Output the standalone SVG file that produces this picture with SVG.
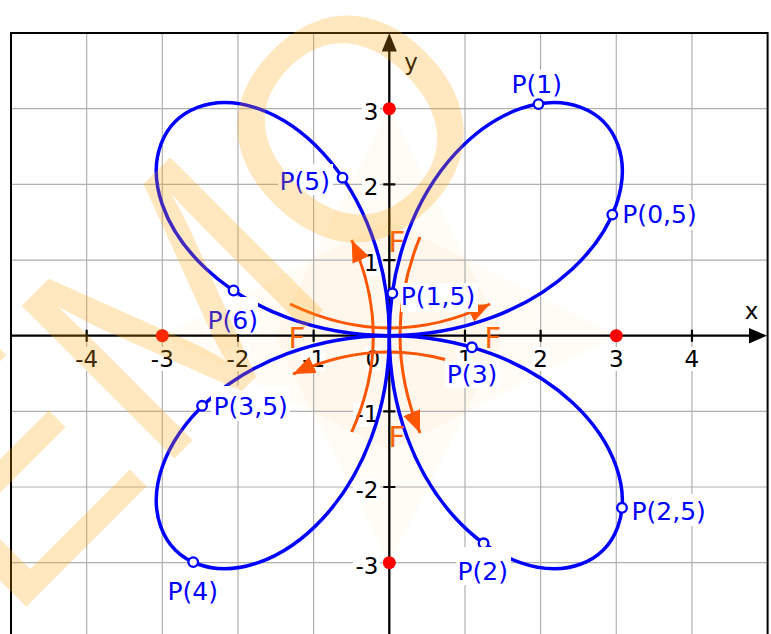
<svg xmlns="http://www.w3.org/2000/svg" xmlns:xlink="http://www.w3.org/1999/xlink" width="771" height="634" viewBox="0 0 771 634">
<style>
.grid{stroke:#b0b0b0;stroke-width:1.2;fill:none}
.ax{stroke:#000;stroke-width:2.3;fill:none}
.tk{stroke:#000;stroke-width:2.2}
.num{font-family:"DejaVu Sans",sans-serif;font-size:23px;fill:#000}
.nb{fill:#fff}
.curve{fill:none;stroke:#0000ff;stroke-width:3.5}
.force{fill:none;stroke:#ff5500;stroke-width:3}
.fl{font-family:"DejaVu Sans",sans-serif;font-size:29px;fill:#ff6400}
.pt{fill:#fff;stroke:#0000ff;stroke-width:2.3}
.pl{font-family:"DejaVu Sans",sans-serif;font-size:25px;fill:#0000ff}
.red{fill:#ff0000}
.cone{fill:#ffa500;fill-opacity:0.04}
.wm{font-family:"Liberation Sans",Arial,sans-serif;font-size:314px;fill:#ffa500;fill-opacity:0.25}
</style>
<defs>
<marker id="ah" markerUnits="userSpaceOnUse" markerWidth="26" markerHeight="20" refX="22" refY="9" orient="auto">
<path d="M0,0 L22,9 L0,18 z" fill="#ff5500"/>
</marker>
<path id="leaf" d="M0,0 C35.21,0 70.39,-6.30 101.94,-17.97 C133.48,-29.65 161.32,-46.67 182.80,-66.53 C204.28,-86.40 219.36,-109.04 226.98,-131.05 C234.60,-153.06 234.77,-174.36 228.31,-191.58 C221.85,-208.79 208.79,-221.85 191.58,-228.31 C174.36,-234.77 153.06,-234.60 131.05,-226.98 C109.04,-219.36 86.40,-204.28 66.53,-182.80 C46.67,-161.32 29.65,-133.48 17.97,-101.94 C6.30,-70.39 0,-35.21 0,0"/>
</defs>
<rect x="0" y="0" width="771" height="634" fill="#fff"/>

<g id="cones">
<polygon class="cone" points="616.3,335.7 389.3,220.7 389.3,450.7"/>
<polygon class="cone" points="162.3,335.7 389.3,220.7 389.3,450.7"/>
<polygon class="cone" points="389.3,108.7 274.3,335.7 504.3,335.7"/>
<polygon class="cone" points="389.3,562.7 274.3,335.7 504.3,335.7"/>
</g>

<g id="grid">
<path class="grid" d="M86.66,33V634 M162.3,33V634 M237.98,33V634 M313.64,33V634 M464.96,33V634 M540.62,33V634 M616.28,33V634 M691.94,33V634 M11,108.72H767.6 M11,184.38H767.6 M11,260.04H767.6 M11,411.36H767.6 M11,487.02H767.6 M11,562.68H767.6"/>
<path d="M11,634V33H767.6V634" fill="none" stroke="#000" stroke-width="2"/>
</g>

<g id="ticklabels">
<rect class="nb" x="74" y="347" width="25" height="24"/><text class="num" x="86.7" y="366.5" text-anchor="middle">-4</text>
<rect class="nb" x="150" y="347" width="25" height="24"/><text class="num" x="162.3" y="366.5" text-anchor="middle">-3</text>
<rect class="nb" x="225" y="347" width="25" height="24"/><text class="num" x="238" y="366.5" text-anchor="middle">-2</text>
<rect class="nb" x="301" y="347" width="25" height="24"/><text class="num" x="313.6" y="366.5" text-anchor="middle">-1</text>
<rect class="nb" x="365" y="347" width="16" height="24"/><text class="num" x="372.7" y="366.5" text-anchor="middle">0</text>
<rect class="nb" x="457" y="347" width="16" height="24"/><text class="num" x="465" y="366.5" text-anchor="middle">1</text>
<rect class="nb" x="532" y="347" width="17" height="24"/><text class="num" x="540.6" y="366.5" text-anchor="middle">2</text>
<rect class="nb" x="608" y="347" width="17" height="24"/><text class="num" x="616.3" y="366.5" text-anchor="middle">3</text>
<rect class="nb" x="683" y="347" width="17" height="24"/><text class="num" x="691.9" y="366.5" text-anchor="middle">4</text>
<rect class="nb" x="362" y="100" width="18" height="24"/><text class="num" x="378.5" y="119.5" text-anchor="end">3</text>
<rect class="nb" x="362" y="176" width="18" height="24"/><text class="num" x="378.5" y="195.2" text-anchor="end">2</text>
<rect class="nb" x="362" y="252" width="18" height="24"/><text class="num" x="378.5" y="270.8" text-anchor="end">1</text>
<rect class="nb" x="353" y="403" width="27" height="24"/><text class="num" x="378.5" y="422.2" text-anchor="end">-1</text>
<rect class="nb" x="353" y="478" width="27" height="24"/><text class="num" x="378.5" y="497.8" text-anchor="end">-2</text>
<rect class="nb" x="353" y="554" width="27" height="24"/><text class="num" x="378.5" y="573.5" text-anchor="end">-3</text>
</g>

<g id="axes">
<path class="ax" d="M11,335.7H752 M389.3,634V49"/>
<polygon points="767,335.7 749,328 749,343.4" fill="#000"/>
<polygon points="389.3,33 381.8,51.5 396.8,51.5" fill="#000"/>
<path class="tk" d="M86.66,329.7v12 M162.3,329.7v12 M237.98,329.7v12 M313.64,329.7v12 M464.96,329.7v12 M540.62,329.7v12 M616.28,329.7v12 M691.94,329.7v12 M383.3,108.72h12 M383.3,184.38h12 M383.3,260.04h12 M383.3,411.36h12 M383.3,487.02h12 M383.3,562.68h12"/>
<text class="num" x="751.5" y="319" text-anchor="middle">x</text>
<text class="num" x="411" y="70" text-anchor="middle">y</text>
</g>

<g id="connectors">
<path class="force" d="M290,304 Q390,352 490,304" marker-end="url(#ah)"/>
<path class="force" d="M445,359.5 Q369,339.1 293,374.1" marker-end="url(#ah)"/>
<path class="force" d="M351.7,432 Q394.9,336 351.7,240" marker-end="url(#ah)"/>
<path class="force" d="M420,237 Q380,335 420,433" marker-end="url(#ah)"/>
</g>

<g id="curve" transform="translate(389.3,335.7)">
<use xlink:href="#leaf" href="#leaf" class="curve"/>
<use xlink:href="#leaf" href="#leaf" class="curve" transform="scale(-1,1)"/>
<use xlink:href="#leaf" href="#leaf" class="curve" transform="scale(1,-1)"/>
<use xlink:href="#leaf" href="#leaf" class="curve" transform="scale(-1,-1)"/>
</g>

<g id="centers">
<circle class="red" cx="616.3" cy="335.7" r="6.5"/>
<circle class="red" cx="162.3" cy="335.7" r="6.5"/>
<circle class="red" cx="389.3" cy="108.7" r="6.5"/>
<circle class="red" cx="389.3" cy="562.7" r="6.5"/>
</g>

<g id="p05"><circle class="pt" cx="612.3" cy="214.6" r="4.8"/><rect class="nb" x="623" y="200" width="76" height="30"/><text class="pl" x="622.3" y="223">P(0,5)</text></g>
<g id="p1"><circle class="pt" cx="538.5" cy="104.1" r="4.8"/><rect class="nb" x="510" y="70" width="56" height="28"/><text class="pl" x="511.5" y="92.7">P(1)</text></g>
<g id="p15"><circle class="pt" cx="392.3" cy="293.3" r="4.8"/><rect class="nb" x="401" y="283" width="77" height="29"/><text class="pl" x="400.8" y="305">P(1,5)</text></g>
<g id="p2"><circle class="pt" cx="483.6" cy="543.3" r="4.8"/><rect class="nb" x="456" y="547" width="55" height="38"/><text class="pl" x="457.5" y="579.5">P(2)</text></g>
<g id="p25"><circle class="pt" cx="622" cy="507.8" r="4.8"/><rect class="nb" x="630" y="494" width="78" height="32"/><text class="pl" x="631.5" y="520">P(2,5)</text></g>
<g id="p3"><circle class="pt" cx="471.9" cy="347.3" r="4.8"/><rect class="nb" x="445" y="361" width="55" height="27"/><text class="pl" x="446.8" y="382.5">P(3)</text></g>
<g id="p35"><circle class="pt" cx="202.1" cy="405.8" r="4.8"/><rect class="nb" x="211" y="386" width="79" height="35"/><text class="pl" x="213.5" y="415">P(3,5)</text></g>
<g id="p4"><circle class="pt" cx="193.2" cy="562.1" r="4.8"/><rect class="nb" x="166" y="575" width="55" height="31"/><text class="pl" x="167.5" y="600">P(4)</text></g>
<g id="p5"><circle class="pt" cx="342.5" cy="177.7" r="4.8"/><rect class="nb" x="278" y="164" width="55" height="31"/><text class="pl" x="279.5" y="189.5">P(5)</text></g>
<g id="p6"><circle class="pt" cx="233.6" cy="290.5" r="4.8"/><rect class="nb" x="206" y="297" width="52" height="37"/><text class="pl" x="207.5" y="328.5">P(6)</text></g>

<g id="forces">
<text class="fl" x="388.5" y="252">F</text>
<text class="fl" x="388.5" y="447">F</text>
<text class="fl" x="288.5" y="348">F</text>
<text class="fl" x="484.5" y="348">F</text>
</g>

<g id="watermark">
<text class="wm" x="226.7" y="0" transform="translate(-152.2,785.2) rotate(-45)">EMO</text>
</g>
</svg>
